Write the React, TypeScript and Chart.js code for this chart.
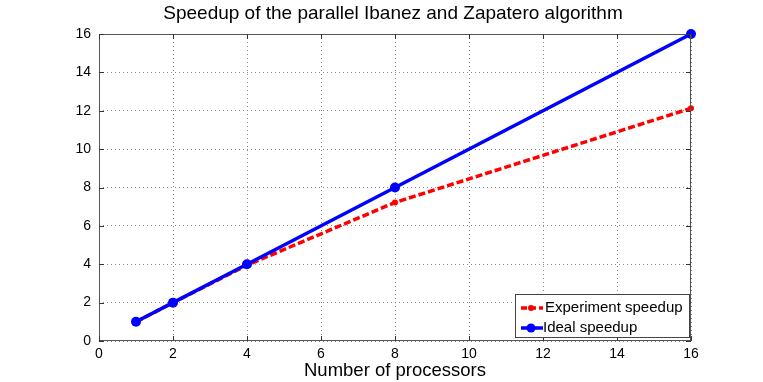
import React, { useEffect, useRef } from "react";
import { Chart, registerables } from "chart.js";

Chart.register(...registerables);

const processors = [1, 2, 4, 8, 16];
const experimentSpeedup = [1, 2, 3.95, 7.22, 12.13];
const idealSpeedup = [1, 2, 4, 8, 16];
const axisTicks = [0, 2, 4, 6, 8, 10, 12, 14, 16];
const titleText = "Speedup of the parallel Ibanez and Zapatero algorithm";
const xTitle = "Number of processors";
const legendLabels = ["Experiment speedup", "Ideal speedup"];

const FONT = "'Liberation Sans', Arial, Helvetica, sans-serif";

const decorPlugin = {
  id: "decor",
  afterDraw(chart: any) {
    const { ctx, chartArea: a, scales } = chart;
    ctx.save();
    ctx.strokeStyle = "#555";
    ctx.lineWidth = 1;
    ctx.strokeRect(a.left + 0.5, a.top + 0.5, a.right - a.left - 1, a.bottom - a.top - 1);
    ctx.strokeStyle = "#333";
    axisTicks.forEach((t) => {
      const x = Math.round(scales.x.getPixelForValue(t)) + 0.5;
      ctx.beginPath();
      ctx.moveTo(x, a.bottom);
      ctx.lineTo(x, a.bottom - 5);
      ctx.moveTo(x, a.top);
      ctx.lineTo(x, a.top + 5);
      ctx.stroke();
      const y = Math.round(scales.y.getPixelForValue(t)) + 0.5;
      ctx.beginPath();
      ctx.moveTo(a.left, y);
      ctx.lineTo(a.left + 5, y);
      ctx.moveTo(a.right, y);
      ctx.lineTo(a.right - 5, y);
      ctx.stroke();
    });
    ctx.fillStyle = "#000";
    ctx.font = `19px ${FONT}`;
    ctx.textAlign = "center";
    ctx.textBaseline = "middle";
    ctx.fillText(titleText, 393, 14);
    ctx.font = `18.5px ${FONT}`;
    ctx.fillText(xTitle, (a.left + a.right) / 2, 371);
    const lx = 515, ly = 294, lw = 174, lh = 43;
    ctx.fillStyle = "#fff";
    ctx.fillRect(lx, ly, lw, lh);
    ctx.strokeStyle = "#444";
    ctx.strokeRect(lx + 0.5, ly + 0.5, lw, lh);
    const rows = [
      { label: legendLabels[0], color: "#ff0000", dash: [6, 3], r: 3, y: ly + 14, tx: lx + 30 },
      { label: legendLabels[1], color: "#0000ff", dash: [], r: 4.5, y: ly + 34, tx: lx + 28 },
    ];
    rows.forEach((row) => {
      ctx.strokeStyle = row.color;
      ctx.lineWidth = 3.5;
      ctx.setLineDash(row.dash);
      ctx.beginPath();
      ctx.moveTo(lx + 6, row.y);
      ctx.lineTo(lx + 28, row.y);
      ctx.stroke();
      ctx.setLineDash([]);
      ctx.fillStyle = row.color;
      ctx.beginPath();
      ctx.arc(lx + 16, row.y, row.r, 0, Math.PI * 2);
      ctx.fill();
      ctx.fillStyle = "#000";
      ctx.font = `15px ${FONT}`;
      ctx.textAlign = "left";
      ctx.fillText(row.label, row.tx, row.y);
    });
    ctx.restore();
  },
};

export default function App() {
  const ref = useRef<HTMLCanvasElement | null>(null);
  useEffect(() => {
    if (!ref.current) return;
    const chart = new Chart(ref.current, {
      type: "line",
      data: {
        datasets: [
          {
            label: legendLabels[0],
            data: processors.map((p, i) => ({ x: p, y: experimentSpeedup[i] })),
            borderColor: "#ff0000",
            backgroundColor: "#ff0000",
            borderWidth: 3.5,
            borderDash: [7, 3],
            pointRadius: 3,
            pointBorderWidth: 0,
            clip: false,
            order: 1,
          },
          {
            label: legendLabels[1],
            data: processors.map((p, i) => ({ x: p, y: idealSpeedup[i] })),
            borderColor: "#0000ff",
            backgroundColor: "#0000ff",
            borderWidth: 3.5,
            pointRadius: 5,
            pointBorderWidth: 0,
            clip: false,
            order: 0,
          },
        ],
      },
      options: {
        animation: false,
        responsive: false,
        maintainAspectRatio: false,
        layout: { padding: { top: 34, right: 72, left: 0, bottom: 0 } },
        plugins: { legend: { display: false }, title: { display: false }, tooltip: { enabled: false } },
        scales: {
          x: {
            type: "linear",
            min: 0,
            max: 16,
            afterFit: (s: any) => { s.height = 41; },
            afterBuildTicks: (s: any) => { s.ticks = axisTicks.map((v) => ({ value: v })); },
            ticks: { color: "#000", font: { size: 14, family: FONT }, padding: 5, maxRotation: 0 },
            grid: { color: "#888", drawTicks: false, lineWidth: 1 },
            border: { display: false, dash: [1, 3] },
          },
          y: {
            type: "linear",
            min: 0,
            max: 16,
            afterFit: (s: any) => { s.width = 99; },
            afterBuildTicks: (s: any) => { s.ticks = axisTicks.map((v) => ({ value: v })); },
            ticks: { color: "#000", font: { size: 14, family: FONT }, padding: 8 },
            grid: { color: "#888", drawTicks: false, lineWidth: 1 },
            border: { display: false, dash: [1, 3] },
          },
        },
      },
      plugins: [decorPlugin],
    });
    return () => chart.destroy();
  }, []);
  return (
    <div style={{ position: "fixed", left: 0, top: 0, width: 763, height: 382, background: "#fff" }}>
      <canvas ref={ref} width={763} height={382} style={{ width: 763, height: 382 }} />
    </div>
  );
}
